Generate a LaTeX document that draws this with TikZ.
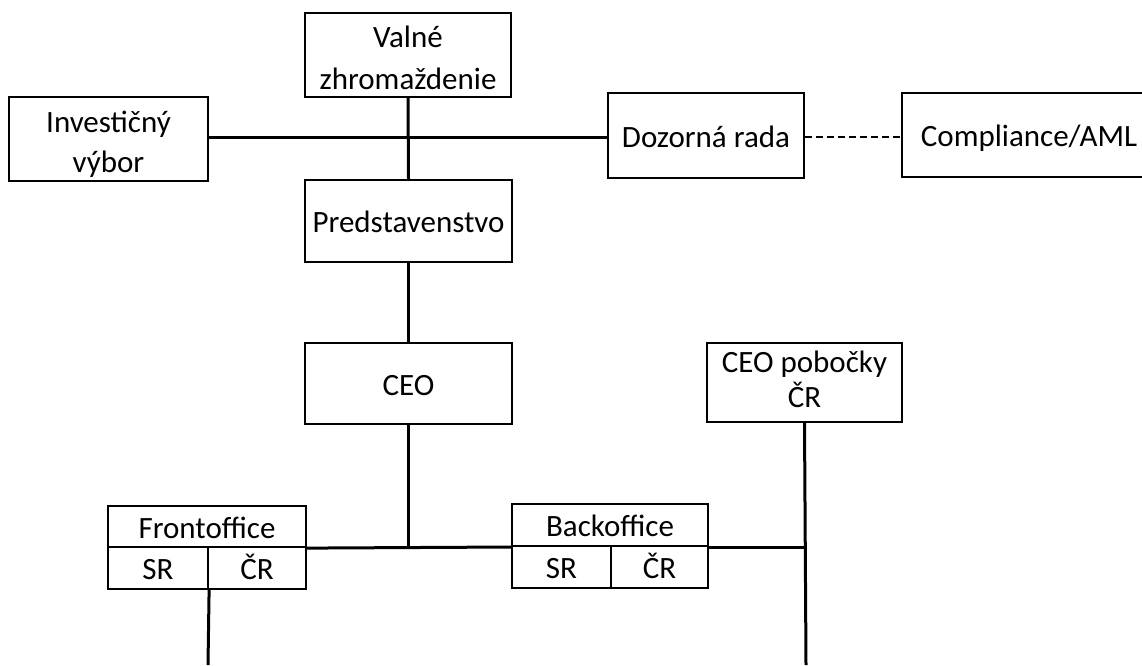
\documentclass[tikz,border=0pt]{standalone}
\usepackage{fontspec}
\setmainfont{Carlito}
\newcommand{\topstrut}[1]{\rule{0pt}{#1}}
\newcommand{\botstrut}{\rule[-0.25em]{0pt}{0.25em}}
\newcommand{\onestrut}{\rule[-0.2em]{0pt}{1.15em}}
\begin{document}
\begin{tikzpicture}[x=1pt,y=-1pt,
  box/.style={draw,line width=2.2pt,rectangle,inner sep=0pt,align=center,
    font=\fontsize{31}{40}\selectfont},
  conn/.style={line width=3pt},
  dconn/.style={line width=2.2pt,dash pattern=on 7pt off 4pt}]
\useasboundingbox[fill=white] (0,0) rectangle (1142,665);
% top level
\node[box,minimum width=206pt,minimum height=84pt,font=\fontsize{31}{42}\selectfont] (val) at (408,55) {\topstrut{1.1em}Valné\\zhromaždenie\botstrut};
\node[box,minimum width=199pt,minimum height=84pt] (inv) at (108.5,139) {\topstrut{1.1em}Investičný\\výbor\botstrut};
\node[box,minimum width=196pt,minimum height=85pt] (doz) at (706,135.5) {\onestrut Dozorná rada};
\node[box,minimum width=254pt,minimum height=84pt] (comp) at (1029,135) {\onestrut Compliance/AML};
\node[box,minimum width=207pt,minimum height=82pt] (pred) at (408.5,221) {\onestrut Predstavenstvo};
\node[box,minimum width=207pt,minimum height=81pt] (ceo) at (408.5,383.5) {\onestrut CEO};
\node[box,minimum width=195pt,minimum height=79pt,font=\fontsize{31}{35}\selectfont] (cpob) at (804.5,382.5) {\topstrut{0.75em}CEO pobočky\\ČR\botstrut};
% front office
\node[box,minimum width=198pt,minimum height=41pt] (fohead) at (207,526.5) {\onestrut Frontoffice};
\node[box,minimum width=100pt,minimum height=42pt] (fosr) at (158,568) {\onestrut SR};
\node[box,minimum width=98pt,minimum height=42pt] (focr) at (257,568) {\onestrut ČR};
% back office
\node[box,minimum width=196pt,minimum height=42pt] (bohead) at (610,525) {\onestrut Backoffice};
\node[box,minimum width=99pt,minimum height=42pt] (bosr) at (561.5,567) {\onestrut SR};
\node[box,minimum width=97pt,minimum height=42pt] (bocr) at (659.5,567) {\onestrut ČR};
% junction coordinates
\coordinate (j1) at (408,137);
\coordinate (j2) at (409,547);
\coordinate (endA) at (806,665);
\coordinate (endB) at (208,665);
% connectors
\draw[conn] (inv.east |- j1) -- (doz.west |- j1);
\draw[conn] (val.south) -- (pred.north);
\draw[conn] (pred.south) -- (ceo.north);
\draw[dconn] (doz.east |- j1) -- (comp.west |- j1);
\draw[conn] (ceo.south) -- (ceo.south |- j2);
\draw[conn] (fohead.south east) -- (bohead.south west |- j2);
\draw[conn] (bohead.south east) -- (cpob.south |- bohead.south east);
\draw[conn] (cpob.south) -- (endA);
\draw[conn] (fosr.south east) -- (endB);
\end{tikzpicture}
\end{document}
